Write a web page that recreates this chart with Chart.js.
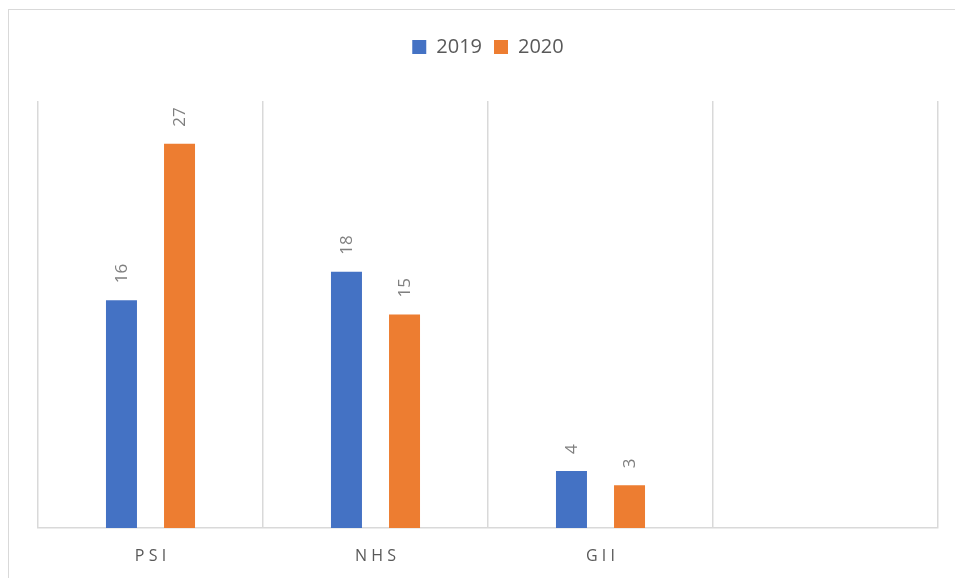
<!DOCTYPE html>
<html lang="en">
<head>
    <meta charset="UTF-8">
    <title>PSI NHS GII</title>
    <script src="https://cdn.jsdelivr.net/npm/chart.js"></script>
</head>
<style>
    body { margin: 0; background: #fff; }
    #wrap { position: relative; width: 955px; height: 578px; overflow: hidden; }
    #frame {
        position: absolute; left: 8px; top: 9px; width: 1000px; height: 700px;
        border: 1px solid #d9d9d9;
    }
    canvas { position: absolute; left: 0; top: 0; }
</style>
<body>
    <div id="wrap">
        <div id="frame"></div>
        <canvas id="barras" width="955" height="578"></canvas>
    </div>
</body>
</html>

<script>
    const categories = ['PSI', 'NHS', 'GII', ''];
    const values2019 = [16, 18, 4, null];
    const values2020 = [27, 15, 3, null];
    const yMax = 30;

    // rotated value labels above each bar
    const barLabels = {
      id: 'barLabels',
      afterDatasetsDraw(chart) {
        const ctx = chart.ctx;
        ctx.save();
        ctx.font = '17px "Open Sans"';
        ctx.fillStyle = '#7f7f7f';
        ctx.textAlign = 'left';
        ctx.textBaseline = 'middle';
        chart.data.datasets.forEach((ds, i) => {
          chart.getDatasetMeta(i).data.forEach((bar, j) => {
            if (ds.data[j] == null) return;
            ctx.save();
            ctx.translate(bar.x + 1, bar.y - 17);
            ctx.rotate(-Math.PI / 2);
            ctx.fillText(String(ds.data[j]), 0, 0);
            ctx.restore();
          });
        });
        ctx.restore();
      }
    };

    // extra room under the legend
    const legendGap = {
      id: 'legendGap',
      beforeInit(chart) {
        const fit = chart.legend.fit;
        chart.legend.fit = function () {
          fit.call(this);
          this.height += 34;
        };
      }
    };

    const ctx = document.getElementById('barras');

    new Chart(ctx, {
      type: 'bar',
      data: {
        labels: categories,
        datasets: [
        {
          label: '2019',
          data: values2019,
          backgroundColor: '#4472C4',
          categoryPercentage: 0.516,
          barPercentage: 0.534
        },
        {
          label: '2020',
          data: values2020,
          backgroundColor: '#ED7D31',
          categoryPercentage: 0.516,
          barPercentage: 0.534
        }]
      },
      options: {
        responsive: false,
        animation: false,
        layout: { padding: { left: 38, right: 17, top: 25, bottom: 0 } },
        plugins: {
          legend: {
            labels: {
              boxWidth: 14,
              boxHeight: 14,
              padding: 12,
              color: '#595959',
              font: { family: '"Open Sans"', size: 20 }
            }
          },
          tooltip: { enabled: false }
        },
        scales: {
          x: {
            afterFit(scale) { scale.height = 50; },
            grid: { color: '#d9d9d9', lineWidth: 1.5, drawTicks: false, offset: true },
            border: { color: '#d9d9d9', width: 1.5 },
            ticks: {
              color: '#595959',
              padding: 19,
              font: { family: '"Open Sans"', size: 16 },
              callback: function (v, i) { return categories[i].split('').join('\u2009\u200a'); }
            }
          },
          y: {
            display: false,
            min: 0,
            max: yMax
          }
        }
      },
      plugins: [barLabels, legendGap]
    });
</script>
